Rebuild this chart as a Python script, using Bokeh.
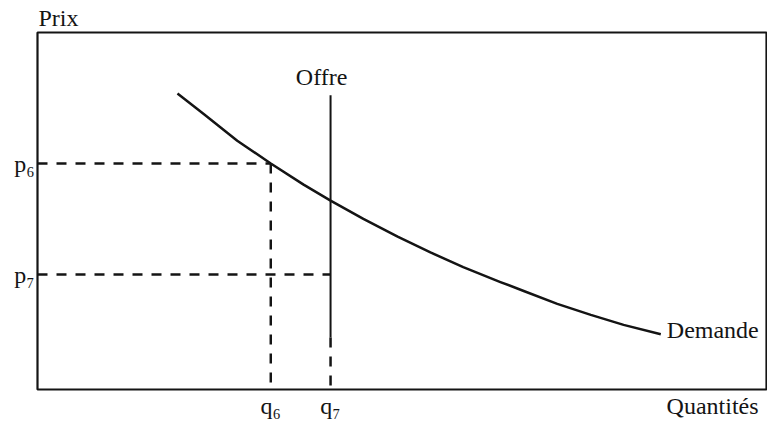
from bokeh.plotting import figure
from bokeh.models import Range1d, FixedTicker, Label, Title
from bokeh.embed import file_html
from bokeh.resources import INLINE

# ---- data (abstract units 0..100 on both axes) ----
demande_q = [19.2, 22.8, 27.4, 32.0, 36.5, 40.2, 44.7, 49.4, 53.9, 58.4,
             63.5, 66.7, 71.3, 75.9, 80.4, 85.5]
demande_p = [82.9, 77.2, 69.7, 63.3, 57.4, 52.9, 47.8, 42.8, 38.4, 34.3,
             30.1, 27.6, 24.0, 20.9, 18.1, 15.5]

q6 = 32.0
q7 = 40.2
p6 = 63.3
p7 = 32.2
offre_top = 82.4
offre_solid_end = 14.6

y_ticks = [p7, p6]
y_tick_labels = ["p\u2087", "p\u2086"]
# the x-axis title sits on the tick-label row at the right end
x_title_pos = 92.6
x_ticks = [q6, q7, x_title_pos]
x_tick_labels = ["q\u2086", "q\u2087", "Quantit\u00e9s"]

FONT = "Liberation Serif"
FS = "24px"
INK = "#141414"

p = figure(width=767, height=421, output_backend="svg", toolbar_location=None,
           x_range=Range1d(0, 100), y_range=Range1d(0, 100),
           min_border_left=37, min_border_right=1, min_border_top=32,
           min_border_bottom=32)
p.background_fill_color = "white"
p.border_fill_color = "white"
p.grid.visible = False
p.outline_line_color = INK
p.outline_line_width = 2.2

for ax in (p.xaxis, p.yaxis):
    ax.axis_line_color = None
    ax.major_tick_line_color = None
    ax.minor_tick_line_color = None
    ax.major_tick_out = 0
    ax.major_tick_in = 0
    ax.major_label_text_font = FONT
    ax.major_label_text_font_size = FS
    ax.major_label_text_color = INK
    ax.major_label_standoff = 3

p.yaxis.ticker = FixedTicker(ticks=y_ticks)
p.yaxis.major_label_overrides = {t: l for t, l in zip(y_ticks, y_tick_labels)}
p.xaxis.ticker = FixedTicker(ticks=x_ticks)
p.xaxis.major_label_overrides = {t: l for t, l in zip(x_ticks, x_tick_labels)}

p.add_layout(Title(text="Prix", align="left", text_font=FONT,
                   text_font_size=FS, text_font_style="normal",
                   text_color=INK, standoff=3, offset=1), "above")

DASH = "10 9"
# dashed guides
p.line([0, q6], [p6, p6], line_color=INK, line_width=2.5, line_dash=DASH)
p.line([q6, q6], [p6, 0], line_color=INK, line_width=2.5, line_dash=DASH)
p.line([0, q7], [p7, p7], line_color=INK, line_width=2.5, line_dash=DASH)
p.line([q7, q7], [offre_solid_end, 0], line_color=INK, line_width=2.5, line_dash=DASH)

# supply (vertical)
p.line([q7, q7], [offre_top, offre_solid_end], line_color=INK, line_width=2)

# demand curve
p.line(demande_q, demande_p, line_color=INK, line_width=2.5, line_join="round")

def lab(text, x, y, **kw):
    p.add_layout(Label(text=text, x=x, y=y, text_font=FONT,
                       text_font_size=FS, text_color=INK, **kw))

lab("Offre", q7, offre_top, x_offset=-9, y_offset=18,
    text_baseline="alphabetic", text_align="center")
lab("Demande", demande_q[-1], demande_p[-1], x_offset=6, y_offset=4,
    text_baseline="alphabetic")

open("out.html", "w").write(file_html(p, INLINE))
